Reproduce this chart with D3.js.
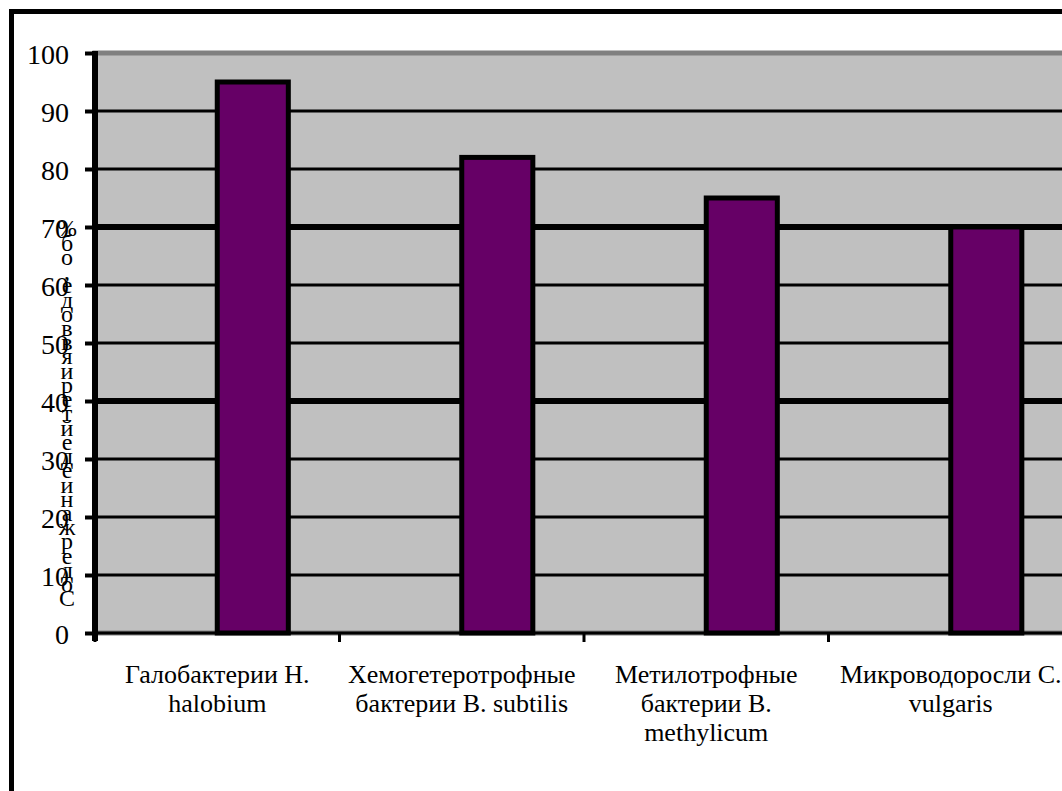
<!DOCTYPE html>
<html>
<head>
<meta charset="utf-8">
<script src="https://cdn.jsdelivr.net/npm/d3@7"></script>
<style>
  body { margin: 0; background: #fff; }
  svg { display: block; }
  text, tspan { font-family: "Liberation Serif", serif; fill: #000; }
</style>
</head>
<body>
<div id="chart"></div>
<script>
// data
const categories = ["Галобактерии", "Хемогетеротрофные", "Метилотрофные", "Микроводоросли"];
const labelLines = [
  ["Галобактерии H.", "halobium"],
  ["Хемогетеротрофные", "бактерии B. subtilis"],
  ["Метилотрофные", "бактерии B.", "methylicum"],
  ["Микроводоросли C.", "vulgaris"]
];
const values = [95, 82, 75, 70];
const yTicks = [0, 10, 20, 30, 40, 50, 60, 70, 80, 90, 100];
const thickGrid = [40, 70];
const yTitle = "Содержание дейтерия в воде, об%";

const width = 1062,
  height = 791,
  margin = { top: 53, bottom: 158, left: 95, right: -11 };

const svg = d3.select("#chart")
  .append("svg")
  .attr("width", width)
  .attr("height", height);

// outer frame, runs past the right and bottom edge
svg.append("rect")
  .attr("x", 11.5).attr("y", 11.5)
  .attr("width", 1100).attr("height", 900)
  .attr("fill", "#fff")
  .attr("stroke", "#000")
  .attr("stroke-width", 5);

const xScale = d3.scaleBand()
  .domain(categories)
  .range([margin.left, width - margin.right])
  .padding(0);

// two slots per category, the first one is empty
const xSub = d3.scaleBand()
  .domain(["empty", "value"])
  .range([0, xScale.bandwidth()])
  .paddingInner(0)
  .paddingOuter(0.72);

const yScale = d3.scaleLinear()
  .domain([0, 100])
  .range([height - margin.bottom, margin.top]);

// plot area
svg.append("rect")
  .attr("x", margin.left)
  .attr("y", yScale(100))
  .attr("width", xScale.range()[1] - margin.left)
  .attr("height", yScale(0) - yScale(100))
  .attr("fill", "#c0c0c0")
  .attr("stroke", "#808080")
  .attr("stroke-width", 5);

// gridlines
svg.append("g")
  .selectAll("line")
  .data(yTicks.filter(d => d > 0 && d < 100))
  .join("line")
  .attr("x1", margin.left)
  .attr("x2", width + 20)
  .attr("y1", d => yScale(d))
  .attr("y2", d => yScale(d))
  .attr("stroke", "#000")
  .attr("stroke-width", d => thickGrid.includes(d) ? 6 : 3);

// bars
svg.append("g")
  .selectAll("rect")
  .data(values)
  .join("rect")
  .attr("x", (d, i) => xScale(categories[i]) + xSub("value"))
  .attr("y", d => yScale(d))
  .attr("width", xSub.bandwidth())
  .attr("height", d => yScale(0) - yScale(d))
  .attr("fill", "#660066")
  .attr("stroke", "#000")
  .attr("stroke-width", 5);

// x axis
const xAxis = svg.append("g")
  .attr("transform", `translate(0,${yScale(0)})`);
xAxis.append("line")
  .attr("x1", margin.left).attr("x2", width + 20)
  .attr("stroke", "#000").attr("stroke-width", 3);
xAxis.selectAll(".xtick")
  .data(categories)
  .join("line")
  .attr("class", "xtick")
  .attr("x1", d => xScale(d)).attr("x2", d => xScale(d))
  .attr("y1", 0).attr("y2", 9)
  .attr("stroke", "#000").attr("stroke-width", 3);

const xLabels = svg.append("g")
  .selectAll("text")
  .data(labelLines)
  .join("text")
  .attr("text-anchor", "middle")
  .attr("font-size", 26)
  .attr("x", (d, i) => xScale(categories[i]) + xScale.bandwidth() / 2)
  .attr("y", yScale(0) + 50);
xLabels.selectAll("tspan")
  .data(d => d)
  .join("tspan")
  .attr("x", function () { return this.parentNode.getAttribute("x"); })
  .attr("dy", (d, i) => i === 0 ? 0 : 29)
  .text(d => d);

// y axis
const yAxis = d3.axisLeft(yScale)
  .tickValues(yTicks)
  .tickSize(10)
  .tickPadding(16);

const yG = svg.append("g")
  .attr("transform", `translate(${margin.left},0)`)
  .call(yAxis);
yG.select(".domain")
  .attr("d", `M0,${yScale(100) - 2}V${yScale(0) + 8}`)
  .attr("stroke", "#000")
  .attr("stroke-width", 6);
yG.selectAll(".tick line")
  .attr("stroke", "#000")
  .attr("stroke-width", 4);
yG.selectAll(".tick text")
  .attr("font-size", 28)
  .attr("fill", "#000")
  .attr("dy", "0.36em");

// y title: letters stacked, read from bottom to top
const letters = Array.from(yTitle).filter(c => c !== " ").reverse();
const titleStep = (598 - 228) / (letters.length - 1);
svg.append("g")
  .selectAll("text")
  .data(letters)
  .join("text")
  .attr("x", 67)
  .attr("y", (d, i) => 228 + i * titleStep)
  .attr("dy", "0.35em")
  .attr("text-anchor", "middle")
  .attr("font-size", 24)
  .text(d => d);
</script>
</body>
</html>
